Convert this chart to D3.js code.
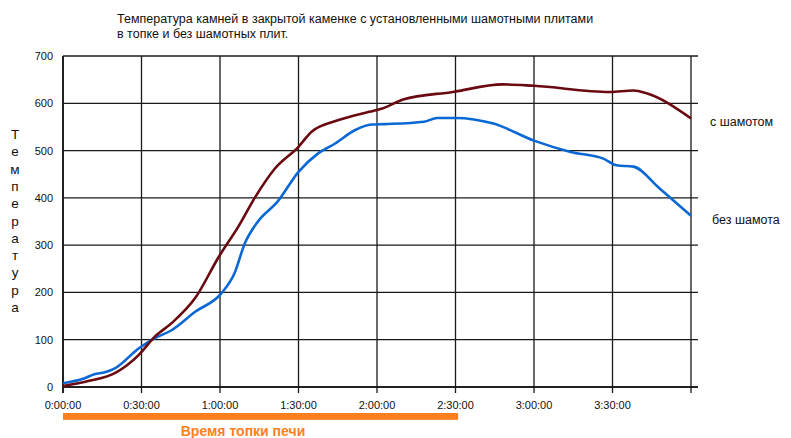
<!DOCTYPE html>
<html><head><meta charset="utf-8">
<script src="https://cdn.jsdelivr.net/npm/d3@7"></script>
<style>body{margin:0;background:#fff}svg{display:block}text{font-family:Arial,"Liberation Sans",sans-serif}</style>
</head><body><div id="c"></div>
<script>
const titleLines = ["Температура камней в закрытой каменке с установленными шамотными плитами", "в топке и без шамотных плит."];
const yTitle = "Температура";
const xTitle = "Время топки печи";
const seriesNames = ["с шамотом", "без шамота"];
const yTicks = [0,100,200,300,400,500,600,700];
const xTicks = [0,30,60,90,120,150,180,210,240];
const xTickLabels = ["0:00:00","0:30:00","1:00:00","1:30:00","2:00:00","2:30:00","3:00:00","3:30:00",""];
const fireStart = 0, fireEnd = 151;
// с шамотом
const tA = [0,10,20,29,35,41.5,50.5,59.5,67,73.5,81,90,95,105,117,122,130,149,168,180,209,218,223,240];
const vA = [2,13,30,68,106,135,188,275,339,402,462,508,540,564,582,589,608,624,640,637,624,627,621,568];
// без шамота
const tB = [0,8,12,16,20,29,35,41.5,50.5,60.5,65.5,69.5,74.5,82,90,97.5,104,111.5,118,123,138,143,150,164.5,180,194,206.5,211.5,218,228,240];
const vB = [8,18,27,31,40,82,103,120,159,198,240,304,350,392,455,494,515,543,555,556,561,569,569,557,521,497,483,469,466,420,362];

const W=791,H=438;
const svg=d3.select("#c").append("svg").attr("width",W).attr("height",H);
const x=d3.scaleLinear().domain([0,240]).range([63,691]);
const y=d3.scaleLinear().domain([0,700]).range([387,56]);
const ext=7;

// title
svg.append("g").selectAll("text").data(titleLines).join("text")
  .attr("x",117).attr("y",(d,i)=>22.5+i*15).attr("font-size",12.5).attr("fill","#111").text(d=>d);

// horizontal grid
svg.append("g").selectAll("line").data(yTicks).join("line")
  .attr("x1",63).attr("x2",691+ext).attr("y1",d=>y(d)).attr("y2",d=>y(d))
  .attr("stroke","#1a1a1a").attr("stroke-width",1.3);
// vertical grid + ticks
svg.append("g").selectAll("line").data(xTicks).join("line")
  .attr("x1",d=>x(d)).attr("x2",d=>x(d)).attr("y1",y(700)).attr("y2",y(0)+6)
  .attr("stroke","#1a1a1a").attr("stroke-width",1.3);
// axes
svg.append("line").attr("x1",63).attr("x2",63).attr("y1",y(700)).attr("y2",y(0)+6).attr("stroke","#111").attr("stroke-width",1.6);
svg.append("line").attr("x1",63).attr("x2",691+ext).attr("y1",y(0)).attr("y2",y(0)).attr("stroke","#111").attr("stroke-width",1.6);

// y labels
svg.append("g").selectAll("text").data(yTicks).join("text")
  .attr("x",53).attr("y",d=>y(d)+4).attr("text-anchor","end").attr("font-size",11).attr("fill","#111").text(d=>d);
// x labels
svg.append("g").selectAll("text").data(xTicks).join("text")
  .attr("x",d=>x(d)).attr("y",409).attr("text-anchor","middle").attr("font-size",11).attr("fill","#111").text((d,i)=>xTickLabels[i]);

// y title stacked letters
svg.append("g").selectAll("text").data(yTitle.split("")).join("text")
  .attr("x",15).attr("y",(d,i)=>139+i*17.3).attr("text-anchor","middle").attr("font-size",13.5).attr("fill","#111").text(d=>d);

// firing bar
svg.append("rect").attr("x",x(fireStart)).attr("y",413).attr("width",x(fireEnd)-x(fireStart)).attr("height",6.8).attr("fill","#FF7F1E");
svg.append("text").attr("x",243).attr("y",436).attr("text-anchor","middle").attr("font-size",14).attr("font-weight","bold").attr("fill","#FF7F1E").text(xTitle);

const line=d3.line().x(d=>x(d[0])).y(d=>y(d[1])).curve(d3.curveMonotoneX);
svg.append("path").datum(tB.map((t,i)=>[t,vB[i]])).attr("d",line).attr("fill","none").attr("stroke","#0A68D4").attr("stroke-width",2.6);
svg.append("path").datum(tA.map((t,i)=>[t,vA[i]])).attr("d",line).attr("fill","none").attr("stroke","#6A0A10").attr("stroke-width",2.6);

svg.append("text").attr("x",710).attr("y",126).attr("font-size",12.5).attr("fill","#111").text(seriesNames[0]);
svg.append("text").attr("x",712).attr("y",224).attr("font-size",12.5).attr("fill","#111").text(seriesNames[1]);
</script></body></html>
